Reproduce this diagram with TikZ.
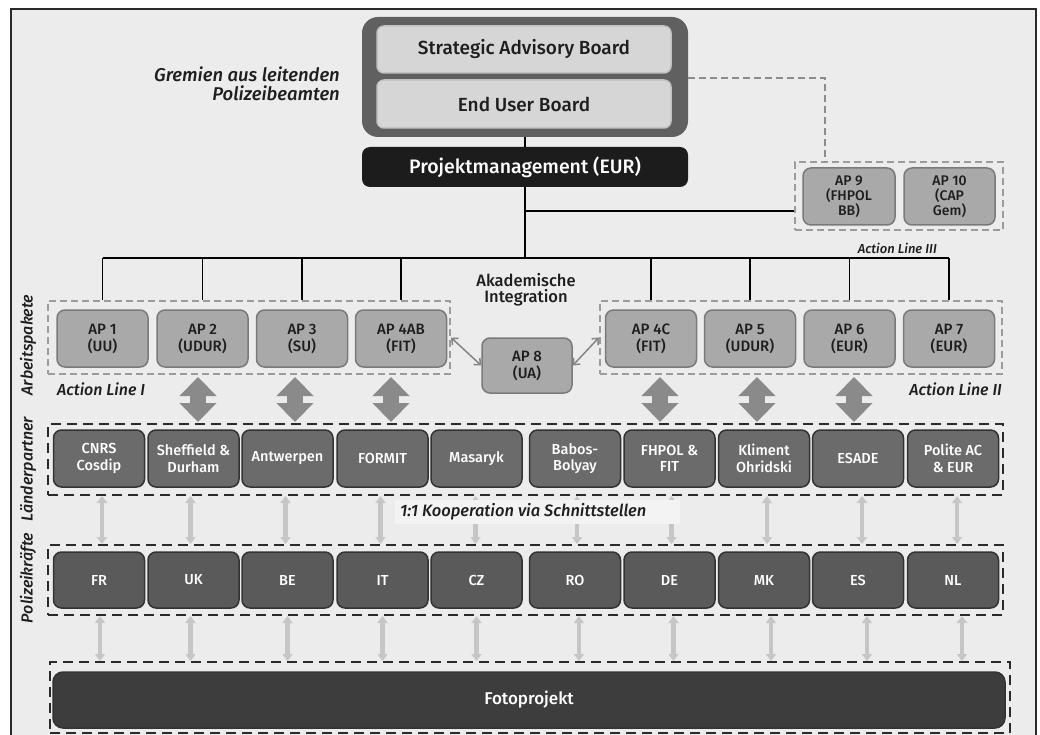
\documentclass[tikz,border=0pt]{standalone}
\usepackage{fontspec}
\setmainfont{Fira Sans}[UprightFont={* Medium}, ItalicFont={* Medium Italic}]
\usetikzlibrary{arrows.meta,calc}
\definecolor{bg}{HTML}{ECECEC}
\definecolor{framec}{HTML}{2A2A2A}
\definecolor{boardouter}{HTML}{606060}
\definecolor{boardfill}{HTML}{D6D6D6}
\definecolor{boardedge}{HTML}{C2C2C2}
\definecolor{pmfill}{HTML}{1C1C1C}
\definecolor{apfill}{HTML}{A9A9A9}
\definecolor{apedge}{HTML}{7A7A7A}
\definecolor{grpgrayc}{HTML}{9C9C9C}
\definecolor{partfill}{HTML}{6B6B6B}
\definecolor{polfill}{HTML}{5A5A5A}
\definecolor{boxedge}{HTML}{333333}
\definecolor{fotofill}{HTML}{3D3D3D}
\definecolor{bigarrc}{HTML}{8A8A8A}
\definecolor{thinarrc}{HTML}{C6C6C6}
\definecolor{labelbg}{HTML}{F3F3F3}
\definecolor{txt}{HTML}{1E1E1E}
\begin{document}
\begin{tikzpicture}[x=1pt,y=-1pt,
  board/.style={draw=boardedge, line width=1.5pt, fill=boardfill, rounded corners=7pt, minimum width=294pt, minimum height=47pt, inner sep=0pt, text=txt, font=\fontsize{19}{22}\selectfont},
  apbox/.style={draw=apedge, line width=1.5pt, fill=apfill, rounded corners=8pt, minimum width=91pt, minimum height=57pt, inner sep=0pt, align=center, text=txt, font=\fontsize{15}{17}\selectfont},
  partbox/.style={draw=boxedge, line width=1.5pt, fill=partfill, rounded corners=8pt, minimum width=91pt, minimum height=57pt, inner sep=0pt, align=center, text=white, font=\fontsize{14.5}{16.5}\selectfont},
  polbox/.style={partbox, fill=polfill, minimum height=56pt},
  grpgray/.style={draw=grpgrayc, line width=2pt, dash pattern=on 7pt off 4pt, inner sep=0pt},
  grpblack/.style={draw=framec, line width=2pt, dash pattern=on 10pt off 6pt, inner sep=0pt},
  treeline/.style={draw=black, line width=1.8pt},
  bigarr/.style={draw=bigarrc, line width=16pt, {Triangle[width=36pt,length=19pt]}-{Triangle[width=36pt,length=19pt]}},
  thinarr/.style={draw=thinarrc, line width=4.5pt, {Triangle[width=10pt,length=7pt]}-{Triangle[width=10pt,length=7pt]}},
  smallarr/.style={draw=grpgrayc!85!black, line width=1.5pt, {Straight Barb[width=9pt,length=5pt]}-{Straight Barb[width=9pt,length=5pt]}},
  sidelabel/.style={rotate=90, font=\fontsize{16}{18}\selectfont\itshape, text=txt},
  note/.style={font=\fontsize{18.5}{21}\selectfont\itshape, text=txt}
]
\useasboundingbox (0,0) rectangle (1040,735);
\fill[white] (0,0) rectangle (1040,735);
\draw[framec, line width=1.5pt, fill=bg] (11,9) rectangle (1036,745);

% Boards
\node[draw=none, fill=boardouter, rounded corners=16pt, minimum width=326pt, minimum height=120pt] (boards) at (525,77) {};
\node[board] (sab) at (524,49.5) {Strategic Advisory Board};
\node[board, minimum height=48pt] (eub) at (524,104) {End User Board};
\node[fill=pmfill, rounded corners=8pt, minimum width=326pt, minimum height=40pt, inner sep=0pt, text=white, font=\fontsize{19.5}{22}\selectfont] (pm) at (525,167) {Projektmanagement (EUR)};
\node[note, anchor=east, inner sep=0pt] (gremien) at (340,87) {\begin{tabular}{@{}r@{}}Gremien aus leitenden\\[-2pt]Polizeibeamten\end{tabular}};

% Action Line III
\node[grpgray, minimum width=208pt, minimum height=68pt] (grp3) at (899,196) {};
\node[apbox, minimum width=92pt, font=\fontsize{14}{15}\selectfont] (ap9) at (849,196.5) {AP 9\\(FHPOL\\BB)};
\node[apbox, minimum width=91pt, font=\fontsize{14}{15}\selectfont] (ap10) at (949.5,196.5) {AP 10\\(CAP\\Gem)};
\node[font=\fontsize{13}{15}\selectfont\itshape, text=txt, anchor=east, inner sep=0pt] (al3) at (937,248) {Action Line III};

% Action Line I and II
\node[grpgray, minimum width=402pt, minimum height=73pt] (grpL) at (249,337.5) {};
\node[grpgray, minimum width=402pt, minimum height=73pt] (grpR) at (801,337.5) {};
\node[apbox] (ap1) at (102.5,338.5) {AP 1\\(UU)};
\node[apbox] (ap2) at (202.5,338.5) {AP 2\\(UDUR)};
\node[apbox] (ap3) at (302,338.5) {AP 3\\(SU)};
\node[apbox] (ap4ab) at (401,338.5) {AP 4AB\\(FIT)};
\node[apbox] (ap4c) at (651,338.5) {AP 4C\\(FIT)};
\node[apbox] (ap5) at (750,338.5) {AP 5\\(UDUR)};
\node[apbox] (ap6) at (849.5,338.5) {AP 6\\(EUR)};
\node[apbox] (ap7) at (949,338.5) {AP 7\\(EUR)};
\node[apbox, minimum width=90pt, minimum height=55pt] (ap8) at (527,365.5) {AP 8\\(UA)};
\node[font=\fontsize{16.5}{16}\selectfont, align=center, text=txt] (akad) at (526,290) {Akademische\\Integration};
\node[note, font=\fontsize{16}{18}\selectfont\itshape, anchor=west, inner sep=0pt] (al1) at (57,389) {Action Line I};
\node[note, font=\fontsize{16}{18}\selectfont\itshape, anchor=east, inner sep=0pt] (al2) at (1002,389) {Action Line II};

% side labels
\node[sidelabel] (lab1) at (28,345) {Arbeitspakete};
\node[sidelabel] (lab2) at (28,469) {Länderpartner};
\node[sidelabel] (lab3) at (28,578) {Polizeikräfte};

% tree
\coordinate (treeY) at (0,258);
\draw[treeline] (boards.south) -- (pm.north);
\draw[treeline] (pm.south) -- (pm.south |- treeY);
\draw[treeline] (ap1.north |- treeY) -- (ap7.north |- treeY);
\foreach \a in {ap1,ap2,ap3,ap4ab,ap4c,ap5,ap6,ap7}
  \draw[treeline] (\a.north |- treeY) -- (\a.north |- grpL.north);
\coordinate (branch3) at (0,211);
\draw[treeline] (pm.south |- branch3) -- (grp3.west |- branch3);
\coordinate (dashY) at (0,78);
\draw[draw=grpgrayc!90!black, line width=2pt, dash pattern=on 7pt off 4pt] (boards.east |- dashY) -- (825,78) -- (825,162);

\draw[smallarr] (grpL.east) -- (ap8.west);
\draw[smallarr] (ap8.east) -- (grpR.west);

% partners
\node[grpblack, minimum width=955pt, minimum height=71pt] (pgrp) at (525.5,459.5) {};
\node[partbox] (p1) at (99,458.5) {CNRS\\Cosdip};
\node[partbox] (p2) at (193.5,458.5) {Sheffield \&\\Durham};
\node[partbox] (p3) at (287.5,458.5) {Antwerpen};
\node[partbox] (p4) at (382.5,458.5) {FORMIT};
\node[partbox] (p5) at (476.5,458.5) {Masaryk};
\node[partbox] (p6) at (575,458.5) {Babos-\\Bolyay};
\node[partbox] (p7) at (669.5,458.5) {FHPOL \&\\FIT};
\node[partbox] (p8) at (764,458.5) {Kliment\\Ohridski};
\node[partbox] (p9) at (858,458.5) {ESADE};
\node[partbox] (p10) at (953,458.5) {Polite AC\\\& EUR};

% police
\node[grpblack, minimum width=955pt, minimum height=70pt] (fgrp) at (525.5,580) {};
\node[polbox] (f1) at (99,580) {FR};
\node[polbox] (f2) at (193.5,580) {UK};
\node[polbox] (f3) at (287.5,580) {BE};
\node[polbox] (f4) at (382.5,580) {IT};
\node[polbox] (f5) at (476.5,580) {CZ};
\node[polbox] (f6) at (575,580) {RO};
\node[polbox] (f7) at (669.5,580) {DE};
\node[polbox] (f8) at (764,580) {MK};
\node[polbox] (f9) at (858,580) {ES};
\node[polbox] (f10) at (953,580) {NL};

% foto
\node[grpblack, minimum width=960pt, minimum height=71pt] (ogrp) at (530,697.5) {};
\node[fill=fotofill, draw=boxedge, line width=1.5pt, rounded corners=10pt, minimum width=952pt, minimum height=56pt, text=white, font=\fontsize{17}{19}\selectfont] (foto) at (529,700) {Fotoprojekt};

% big arrows
\coordinate (b1a) at (198,377); \coordinate (b1b) at (198,422);
\coordinate (b2a) at (295,377); \coordinate (b2b) at (295,422);
\coordinate (b3a) at (391,377); \coordinate (b3b) at (391,422);
\coordinate (b4a) at (660,377); \coordinate (b4b) at (660,422);
\coordinate (b5a) at (757,377); \coordinate (b5b) at (757,422);
\coordinate (b6a) at (854,377); \coordinate (b6b) at (854,422);
\foreach \i in {1,...,6} \draw[bigarr] (b\i a) -- (b\i b);

% thin arrows partners <-> police
\foreach \i/\dx in {1/3,2/-3,3/-2,4/-2,5/-1,6/2,7/2,8/3,9/4,10/4}
  \draw[thinarr] ([xshift=\dx pt]p\i.south |- pgrp.south) -- ([xshift=\dx pt]p\i.south |- fgrp.north);
\node[fill=labelbg, minimum width=285pt, minimum height=24pt, inner sep=0pt] (koopbg) at (537.5,512) {};
\node[anchor=west, font=\fontsize{16.5}{18}\selectfont\itshape, text=txt, inner sep=0pt] (koop) at (400,512) {1:1 Kooperation via Schnittstellen};

% thin arrows police <-> foto
\foreach \i/\dx in {1/1,2/-3,3/0,4/0,5/0,6/4,7/4,8/7,9/9,10/9}
  \draw[thinarr] ([xshift=\dx pt]f\i.south |- fgrp.south) -- ([xshift=\dx pt]f\i.south |- ogrp.north);
\end{tikzpicture}
\end{document}
